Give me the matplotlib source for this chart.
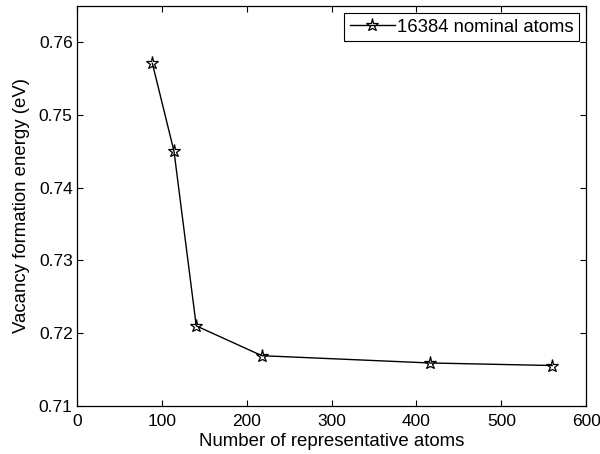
import matplotlib
matplotlib.use('Agg')
import matplotlib.pyplot as plt

# data
n_rep = [89, 114.5, 140.7, 218, 416, 560]
e_vac = [0.7571, 0.7450, 0.7210, 0.7169, 0.7159, 0.71555]

plt.rcParams['font.family'] = ['Liberation Sans', 'DejaVu Sans']
plt.rcParams['font.size'] = 12.5

fig = plt.figure(figsize=(6.0, 4.54), dpi=100)
ax = fig.add_axes([0.128, 0.106, 0.849, 0.881])

ax.plot(n_rep, e_vac, color='black', linewidth=1.0, marker='*',
        markersize=9.5, markerfacecolor='none', markeredgecolor='black',
        markeredgewidth=0.9, label='16384 nominal atoms')

ax.set_xlim(0, 600)
ax.set_ylim(0.71, 0.765)
ax.set_xticks([0, 100, 200, 300, 400, 500, 600])
ax.set_yticks([0.71, 0.72, 0.73, 0.74, 0.75, 0.76])
ax.set_yticklabels(['0.71', '0.72', '0.73', '0.74', '0.75', '0.76'])
ax.tick_params(direction='in', top=True, right=True, length=4, width=0.8, pad=3)
ax.tick_params(axis='x', pad=6)
for s in ax.spines.values():
    s.set_linewidth(0.9)

ax.set_xlabel('Number of representative atoms', fontsize=13.4, labelpad=2.5)
ax.set_ylabel('Vacancy formation energy (eV)', fontsize=13.4, labelpad=6)

leg = ax.legend(loc='upper right', fancybox=False, edgecolor='black',
                framealpha=1, borderaxespad=0.4, handlelength=2.45,
                handletextpad=0.1, borderpad=0.3, fontsize=13.3)
leg.get_frame().set_linewidth(0.8)

plt.savefig('out.png', dpi=100)
